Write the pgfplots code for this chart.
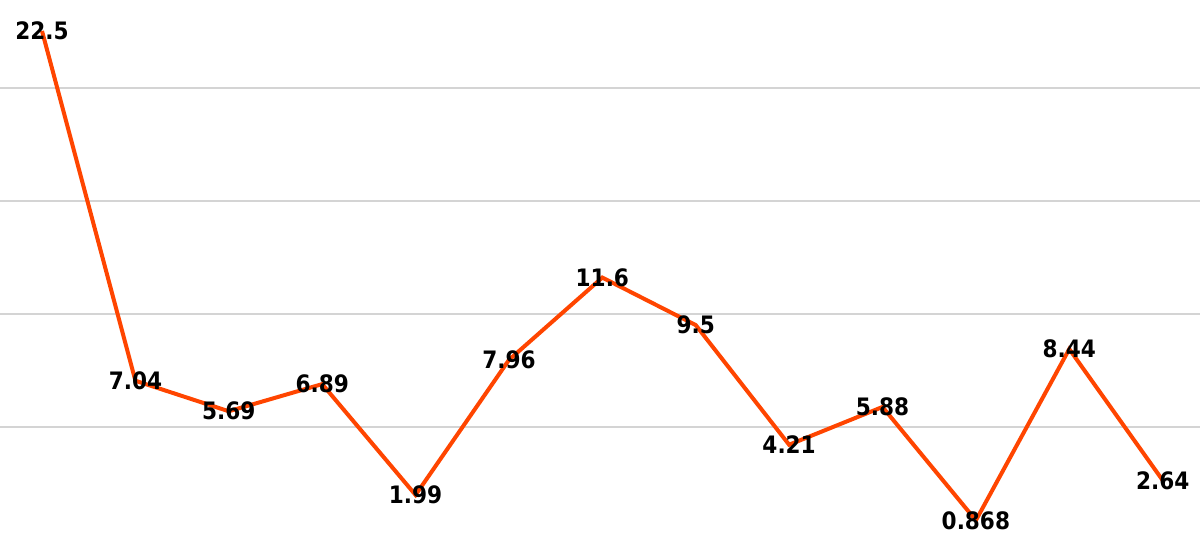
\documentclass[border=0pt]{standalone}
\usepackage{pgfplots}
\pgfplotsset{compat=1.18}
\usepackage{fontspec}
\setmainfont{DejaVu Sans Condensed}
\definecolor{lineorange}{RGB}{255,69,0}
\definecolor{gridgray}{RGB}{212,212,212}
\begin{document}
\begin{tikzpicture}
  \begin{axis}[
    width=600pt, height=270pt,
    scale only axis,
    axis line style={draw=none},
    xmin=-0.45, xmax=12.40,
    ymin=0, ymax=23.87,
    xtick=\empty,
    ytick={5,10,15,20},
    yticklabels={},
    tick style={draw=none},
    major tick length=0pt,
    ymajorgrids,
    grid style={gridgray, line width=1pt},
    nodes near coords,
    point meta=explicit symbolic,
    every node near coord/.style={anchor=center, font=\fontsize{12}{14}\selectfont\bfseries, text=black},
  ]
  % series values
  \addplot [lineorange, line width=2pt, mark=none] coordinates {
(0,22.5) [22.5]
(1,7.04) [7.04]
(2,5.69) [5.69]
(3,6.89) [6.89]
(4,1.99) [1.99]
(5,7.96) [7.96]
(6,11.6) [11.6]
(7,9.5) [9.5]
(8,4.21) [4.21]
(9,5.88) [5.88]
(10,0.868) [0.868]
(11,8.44) [8.44]
(12,2.64) [2.64]};
  \end{axis}
  \pgfresetboundingbox
  \useasboundingbox (current axis.south west) rectangle (current axis.north east);
\end{tikzpicture}
\end{document}
